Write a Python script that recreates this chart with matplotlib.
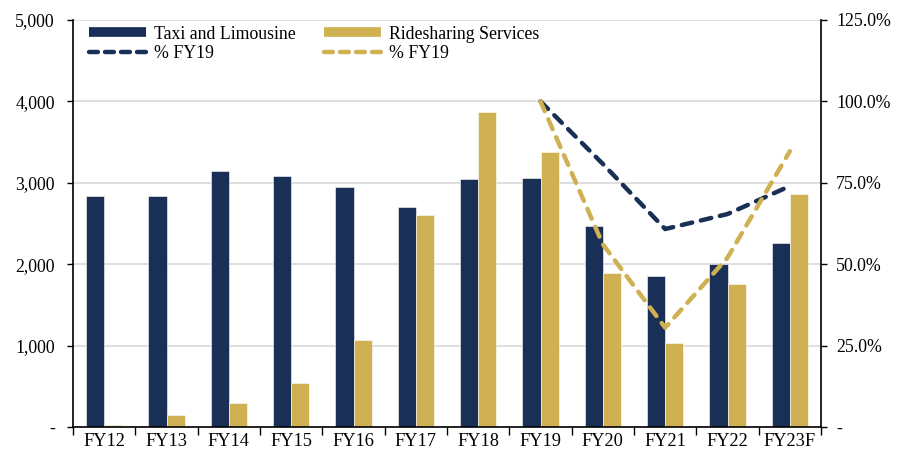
import matplotlib
matplotlib.use("Agg")
import matplotlib.pyplot as plt
from matplotlib.lines import Line2D
import numpy as np

categories = ["FY12", "FY13", "FY14", "FY15", "FY16", "FY17", "FY18", "FY19", "FY20", "FY21", "FY22", "FY23F"]
taxi = [2838, 2838, 3145, 3084, 2948, 2703, 3047, 3057, 2469, 1858, 1998, 2260]
rideshare = [30, 151, 295, 540, 1069, 2604, 3870, 3380, 1896, 1032, 1757, 2862]
pct_cats = ["FY19", "FY20", "FY21", "FY22", "FY23F"]
taxi_pct = [100.0, 80.8, 60.8, 65.4, 74.0]
ride_pct = [100.0, 56.1, 30.5, 52.0, 84.7]
left_ticks = [0, 1000, 2000, 3000, 4000, 5000]
left_labels = ["-", "1,000", "2,000", "3,000", "4,000", "5,000"]
right_ticks = [0, 25, 50, 75, 100, 125]
right_labels = ["-", "25.0%", "50.0%", "75.0%", "100.0%", "125.0%"]

NAVY = "#1A2F55"
GOLD = "#CFB053"
GRID = "#D9D9D9"

plt.rcParams["font.family"] = ["Liberation Serif", "DejaVu Serif"]
plt.rcParams["font.size"] = 12.8

fig = plt.figure(figsize=(8.97, 4.62), dpi=100)
ax = fig.add_axes([73/897, 1-427/462, (821-73)/897, (427-20)/462])
x = np.arange(len(categories))
w = 0.29
ax.bar(x - w/2, taxi, w, color=NAVY, edgecolor="white", linewidth=0.4, zorder=2)
ax.bar(x + w/2, rideshare, w, color=GOLD, edgecolor="white", linewidth=0.4, zorder=2)
ax.set_ylim(0, 5000)
ax.set_xlim(-0.5, len(categories) - 0.5)
ax.set_yticks(left_ticks)
ax.set_yticklabels(left_labels)
ax.set_xticks(x)
ax.set_xticklabels(categories, fontsize=13.2)
ax.set_xticks(np.arange(len(categories) + 1) - 0.5, minor=True)
ax.tick_params(axis="x", which="major", length=0, pad=4)
ax.tick_params(axis="x", which="minor", length=6, width=1, direction="out")
ax.tick_params(axis="y", length=4, width=1, direction="out", pad=9)
ax.yaxis.grid(True, color=GRID, linewidth=1.2, zorder=0)
ax.set_axisbelow(True)
ax.spines["top"].set_visible(False)
ax.spines["right"].set_visible(False)
ax.spines["left"].set_linewidth(1.2)
ax.spines["bottom"].set_linewidth(1.2)

ax2 = ax.twinx()
ax2.set_ylim(0, 125)
ax2.set_yticks(right_ticks)
ax2.set_yticklabels(right_labels)
ax2.tick_params(axis="y", length=4, width=1, direction="out", pad=7)
for s in ["top", "left", "bottom"]:
    ax2.spines[s].set_visible(False)
ax2.spines["right"].set_linewidth(1.2)
px = [categories.index(c) for c in pct_cats]
ls = (0, (2.4, 2.0))
ax2.plot(px, taxi_pct, color=NAVY, lw=3.2, linestyle=ls, dash_capstyle="round", zorder=3)
ax2.plot(px, ride_pct, color=GOLD, lw=3.2, linestyle=ls, dash_capstyle="round", zorder=3)

lls = (0, (2.0, 1.6))
handles = [
    Line2D([], [], color=NAVY, lw=7, solid_capstyle="butt"),
    Line2D([], [], color=NAVY, lw=3.2, linestyle=lls, dash_capstyle="round"),
    Line2D([], [], color=GOLD, lw=7, solid_capstyle="butt"),
    Line2D([], [], color=GOLD, lw=3.2, linestyle=lls, dash_capstyle="round"),
]
labels = ["Taxi and Limousine", "% FY19", "Ridesharing Services", "% FY19"]
ax2.legend(handles, labels, ncol=2, loc="upper left", bbox_to_anchor=(0.005, 1.017),
           frameon=False, handlelength=3.2, handletextpad=0.45, columnspacing=1.6,
           labelspacing=0.15, borderaxespad=0.3)

fig.savefig("out.png", dpi=100)
